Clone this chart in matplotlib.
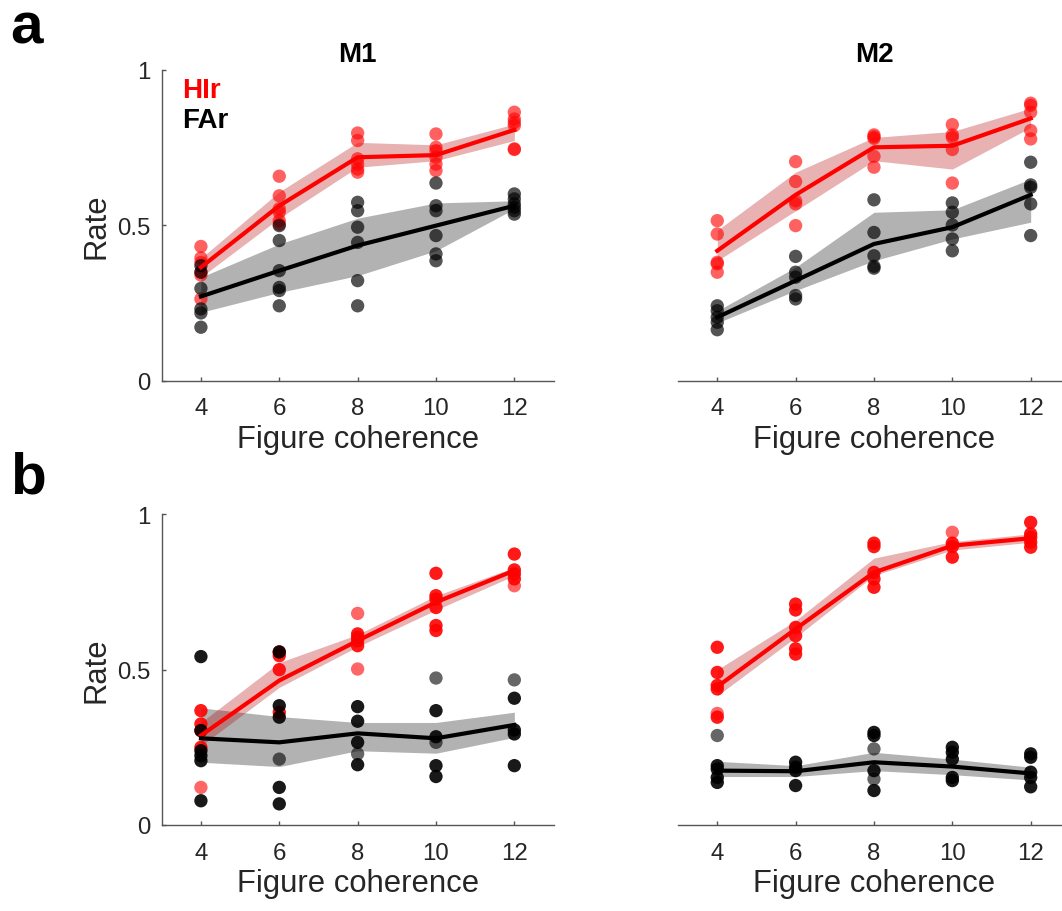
import matplotlib
matplotlib.use("Agg")
import matplotlib.pyplot as plt
import numpy as np

plt.rcParams['font.family'] = ['Liberation Sans', 'DejaVu Sans']

coh = [4, 6, 8, 10, 12]

# ---- a, M1 ----
a1_hit_mean = [0.365, 0.563, 0.719, 0.726, 0.807]
a1_hit_lo = [0.333, 0.523, 0.687, 0.708, 0.773]
a1_hit_hi = [0.394, 0.608, 0.767, 0.759, 0.826]
a1_hit_pts = [[0.432, 0.395, 0.38, 0.35, 0.34, 0.263],
              [0.658, 0.595, 0.553, 0.542, 0.515, 0.504],
              [0.797, 0.773, 0.714, 0.697, 0.681, 0.671],
              [0.794, 0.751, 0.740, 0.719, 0.697, 0.676],
              [0.864, 0.842, 0.831, 0.821, 0.746, 0.744]]
a1_fa_mean = [0.271, 0.354, 0.435, 0.499, 0.563]
a1_fa_lo = [0.220, 0.284, 0.338, 0.418, 0.553]
a1_fa_hi = [0.333, 0.440, 0.523, 0.572, 0.579]
a1_fa_pts = [[0.370, 0.349, 0.297, 0.231, 0.218, 0.172],
             [0.499, 0.451, 0.354, 0.300, 0.290, 0.241],
             [0.574, 0.547, 0.494, 0.445, 0.322, 0.241],
             [0.636, 0.563, 0.547, 0.467, 0.408, 0.386],
             [0.601, 0.585, 0.569, 0.558, 0.547, 0.536]]

# ---- a, M2 ----
a2_hit_mean = [0.418, 0.598, 0.751, 0.756, 0.844]
a2_hit_lo = [0.386, 0.547, 0.708, 0.681, 0.815]
a2_hit_hi = [0.484, 0.671, 0.783, 0.802, 0.877]
a2_hit_pts = [[0.515, 0.472, 0.381, 0.376, 0.349],
              [0.705, 0.641, 0.579, 0.569, 0.499],
              [0.791, 0.785, 0.780, 0.722, 0.687],
              [0.824, 0.791, 0.783, 0.744, 0.636],
              [0.893, 0.886, 0.864, 0.805, 0.778]]
a2_fa_mean = [0.204, 0.322, 0.440, 0.494, 0.598]
a2_fa_lo = [0.186, 0.290, 0.386, 0.456, 0.510]
a2_fa_hi = [0.225, 0.365, 0.542, 0.550, 0.649]
a2_fa_pts = [[0.241, 0.225, 0.204, 0.188, 0.164],
             [0.400, 0.349, 0.333, 0.274, 0.263],
             [0.582, 0.477, 0.402, 0.368, 0.362],
             [0.572, 0.542, 0.501, 0.456, 0.418],
             [0.703, 0.630, 0.622, 0.569, 0.467]]

# ---- b, M1 ----
b1_hit_mean = [0.288, 0.465, 0.593, 0.717, 0.819]
b1_hit_lo = [0.255, 0.443, 0.574, 0.692, 0.803]
b1_hit_hi = [0.330, 0.523, 0.613, 0.738, 0.829]
b1_hit_pts = [[0.368, 0.325, 0.304, 0.25],
              [0.557, 0.545, 0.50, 0.363],
              [0.615, 0.604, 0.593, 0.577],
              [0.81, 0.738, 0.727, 0.70, 0.642, 0.626],
              [0.872, 0.821, 0.808, 0.792]]
b1_hit_faint = [[0.121], [], [0.681, 0.502], [], [0.770]]
b1_fa_mean = [0.279, 0.266, 0.295, 0.279, 0.322]
b1_fa_lo = [0.202, 0.188, 0.239, 0.231, 0.282]
b1_fa_hi = [0.377, 0.349, 0.330, 0.330, 0.363]
b1_fa_pts = [[0.542, 0.304, 0.239, 0.223, 0.207, 0.078],
             [0.557, 0.384, 0.347, 0.121, 0.068],
             [0.381, 0.334, 0.266, 0.194],
             [0.368, 0.284, 0.191, 0.156],
             [0.408, 0.306, 0.293, 0.191]]
b1_fa_faint = [[], [0.212], [0.229], [0.473, 0.266], [0.467]]

# ---- b, M2 ----
b2_hit_mean = [0.445, 0.631, 0.813, 0.899, 0.923]
b2_hit_lo = [0.416, 0.604, 0.803, 0.885, 0.910]
b2_hit_hi = [0.500, 0.658, 0.859, 0.912, 0.937]
b2_hit_pts = [[0.572, 0.491, 0.449, 0.438, 0.347],
              [0.711, 0.692, 0.636, 0.609, 0.567, 0.55],
              [0.907, 0.896, 0.813, 0.792, 0.765],
              [0.907, 0.896, 0.862],
              [0.974, 0.937, 0.926, 0.91, 0.894]]
b2_hit_faint = [[0.359], [], [], [0.942], []]
b2_fa_mean = [0.175, 0.173, 0.202, 0.188, 0.166]
b2_fa_lo = [0.156, 0.156, 0.175, 0.162, 0.145]
b2_fa_hi = [0.205, 0.191, 0.234, 0.212, 0.186]
b2_fa_pts = [[0.191, 0.180, 0.153, 0.137],
             [0.202, 0.186, 0.175, 0.127],
             [0.298, 0.288, 0.175, 0.111],
             [0.25, 0.234, 0.212, 0.153, 0.143],
             [0.229, 0.218, 0.170, 0.153, 0.123]]
b2_fa_faint = [[0.288], [], [0.245, 0.148], [], []]

RED = (1, 0, 0)
BAND_RED = (0.7, 0, 0)
AXC = '#555555'
TXC = '#262626'


def scatter_cols(ax, pts, color, alpha):
    for x, ys in zip(coh, pts):
        if len(ys):
            ax.scatter([x]*len(ys), ys, s=92, color=color, alpha=alpha,
                       edgecolors='none', zorder=3)


def panel(ax, hit, fa, dot_alpha, faint=None, first=False, title=None):
    (hm, hlo, hhi, hpts) = hit
    (fm, flo, fhi, fpts) = fa
    ax.fill_between(coh, flo, fhi, color='k', alpha=0.3, lw=0, zorder=1)
    ax.fill_between(coh, hlo, hhi, color=BAND_RED, alpha=0.3, lw=0, zorder=2)
    scatter_cols(ax, hpts, RED, dot_alpha[0])
    scatter_cols(ax, fpts, 'k', dot_alpha[1])
    if faint is not None:
        scatter_cols(ax, faint[0], RED, 0.6)
        scatter_cols(ax, faint[1], 'k', 0.6)
    ax.plot(coh, hm, color=RED, lw=3, zorder=4)
    ax.plot(coh, fm, color='k', lw=3, zorder=4)

    ax.set_xlim(3, 13)
    ax.set_ylim(0, 1)
    ax.set_xticks(coh)
    ax.spines['top'].set_visible(False)
    ax.spines['right'].set_visible(False)
    for sp in ax.spines.values():
        sp.set_color(AXC)
        sp.set_linewidth(1)
    ax.tick_params(axis='x', direction='in', length=3, width=1, color=AXC,
                   labelsize=17.3, labelcolor=TXC, pad=12)
    ax.tick_params(axis='y', direction='in', length=3, width=1, color=AXC,
                   labelsize=17.3, labelcolor=TXC, pad=8)
    ax.set_xlabel('Figure coherence', fontsize=22.3, color=TXC, labelpad=3)
    if first:
        ax.set_yticks([0, 0.5, 1])
        ax.set_yticklabels(['0', '0.5', '1'])
        ax.set_ylabel('Rate', fontsize=22.3, color=TXC, labelpad=4)
    else:
        ax.spines['left'].set_visible(False)
        ax.set_yticks([])
    if title:
        ax.text(0.5, 1.029, title, transform=ax.transAxes, ha='center',
                va='baseline', fontsize=20, fontweight='bold')


fig = plt.figure(figsize=(10.62, 9.12), dpi=100)
W, H = 0.3689, 0.3407
ax1 = fig.add_axes([0.1523, 0.5815, W, H])
ax2 = fig.add_axes([0.6385, 0.5815, W, H])
ax3 = fig.add_axes([0.1523, 0.0943, W, H])
ax4 = fig.add_axes([0.6385, 0.0943, W, H])

panel(ax1, (a1_hit_mean, a1_hit_lo, a1_hit_hi, a1_hit_pts),
      (a1_fa_mean, a1_fa_lo, a1_fa_hi, a1_fa_pts), (0.62, 0.67),
      first=True, title='M1')
panel(ax2, (a2_hit_mean, a2_hit_lo, a2_hit_hi, a2_hit_pts),
      (a2_fa_mean, a2_fa_lo, a2_fa_hi, a2_fa_pts), (0.62, 0.67),
      title='M2')
panel(ax3, (b1_hit_mean, b1_hit_lo, b1_hit_hi, b1_hit_pts),
      (b1_fa_mean, b1_fa_lo, b1_fa_hi, b1_fa_pts), (0.9, 0.9),
      faint=(b1_hit_faint, b1_fa_faint), first=True)
panel(ax4, (b2_hit_mean, b2_hit_lo, b2_hit_hi, b2_hit_pts),
      (b2_fa_mean, b2_fa_lo, b2_fa_hi, b2_fa_pts), (0.9, 0.9),
      faint=(b2_hit_faint, b2_fa_faint))

ax1.text(3.52, 0.913, 'HIr', color=RED, fontsize=20, fontweight='bold',
         va='baseline')
ax1.text(3.52, 0.817, 'FAr', color='k', fontsize=20, fontweight='bold',
         va='baseline')

fig.text(0.0094, 1 - 43/912, 'a', fontsize=42, fontweight='bold',
         va='baseline')
fig.text(0.0094, 1 - 493/912, 'b', fontsize=42, fontweight='bold',
         va='baseline')

fig.savefig('out.png', dpi=100)
